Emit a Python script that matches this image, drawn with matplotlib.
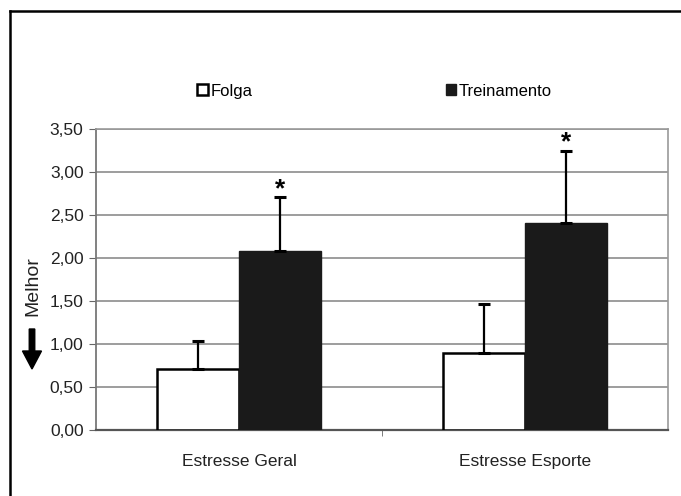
#!/usr/bin/env python3

"""Stress scores, Folga vs Treinamento, in the old Excel bar chart style."""

import matplotlib as mpl
import matplotlib.pyplot as plt
import numpy as np

mpl.use("Agg")

categories = ["Estresse Geral", "Estresse Esporte"]
folga = [0.71, 0.90]
folga_err = [0.33, 0.57]
treino = [2.08, 2.41]
treino_err = [0.63, 0.84]
yticks = [0.0, 0.5, 1.0, 1.5, 2.0, 2.5, 3.0, 3.5]


def main():
    """Entry point."""
    plt.rcParams["font.family"] = ["Liberation Sans", "DejaVu Sans"]

    fig = plt.figure(figsize=(6.81, 4.96), dpi=100)
    W, H = 681, 496
    ax = fig.add_axes([96 / W, 66 / H, 572 / W, 301 / H])

    x = np.arange(len(categories))
    w = 0.286

    ax.bar(x - w / 2, folga, w, color="white", edgecolor="black",
           linewidth=1.8, zorder=3, label="Folga")
    ax.bar(x + w / 2, treino, w, color="#1a1a1a", edgecolor="#1a1a1a",
           linewidth=1.0, zorder=3, label="Treinamento")

    ax.errorbar(x - w / 2, folga, yerr=[np.zeros(len(folga)), folga_err],
                fmt="none", ecolor="black", elinewidth=1.6, capsize=4,
                capthick=2.2, zorder=4)
    ax.errorbar(x + w / 2, treino, yerr=[np.zeros(len(treino)), treino_err],
                fmt="none", ecolor="black", elinewidth=1.6, capsize=4,
                capthick=2.2, zorder=4)

    # significance marks
    for xi, v, e in zip(x + w / 2, treino, treino_err):
        ax.annotate("*", (xi, v + e), xytext=(0, -3), textcoords="offset points",
                    ha="center", va="bottom", fontsize=19, fontweight="bold")

    ax.set_xlim(-0.5, 1.5)
    ax.set_ylim(0, 3.5)
    ax.set_yticks(yticks)
    ax.set_yticklabels([f"{t:.2f}".replace(".", ",") for t in yticks],
                       fontsize=12.5, color="#222222")
    ax.yaxis.grid(True, color="#8c8c8c", linewidth=1.2, zorder=0)
    ax.set_axisbelow(True)

    ax.set_xticks(x)
    ax.set_xticklabels(categories, fontsize=12.5, color="#222222")
    ax.tick_params(axis="x", length=0, pad=17)
    ax.set_xticks([0.5], minor=True)
    ax.tick_params(axis="x", which="minor", length=4, color="#666666")
    ax.tick_params(axis="y", length=5, color="#666666", pad=4)

    for side in ("top", "right"):
        ax.spines[side].set_color("#9a9a9a")
        ax.spines[side].set_linewidth(1.2)
    ax.spines["left"].set_color("#777777")
    ax.spines["left"].set_linewidth(1.3)
    ax.spines["bottom"].set_color("#555555")
    ax.spines["bottom"].set_linewidth(1.6)

    ax.legend(loc="lower left", bbox_to_anchor=(189 / W, 389 / H),
              bbox_transform=fig.transFigure, ncol=2, frameon=False,
              fontsize=12, handlelength=0.65, handleheight=0.65,
              handletextpad=0.12, columnspacing=11.6, borderpad=0)

    # y label with arrow
    fig.text(33 / W, 1 - 286 / H, "Melhor", rotation=90, ha="center",
             va="center", fontsize=14, color="#222222")
    fig.patches.append(mpl.patches.FancyArrow(
        32 / W, 1 - 329 / H, 0, -40 / H, width=5.5 / W, head_width=19 / W,
        head_length=18 / H, length_includes_head=True, color="black",
        transform=fig.transFigure, figure=fig))

    # frame lines on the left and top
    fig.add_artist(mpl.lines.Line2D([9.5 / W, 9.5 / W], [0, 1 - 10.5 / H],
                                    color="black", linewidth=1.8))
    fig.add_artist(mpl.lines.Line2D([9.5 / W, 1], [1 - 10.5 / H, 1 - 10.5 / H],
                                    color="black", linewidth=1.8))

    fig.savefig("out.png", dpi=100)


if __name__ == "__main__":
    main()
